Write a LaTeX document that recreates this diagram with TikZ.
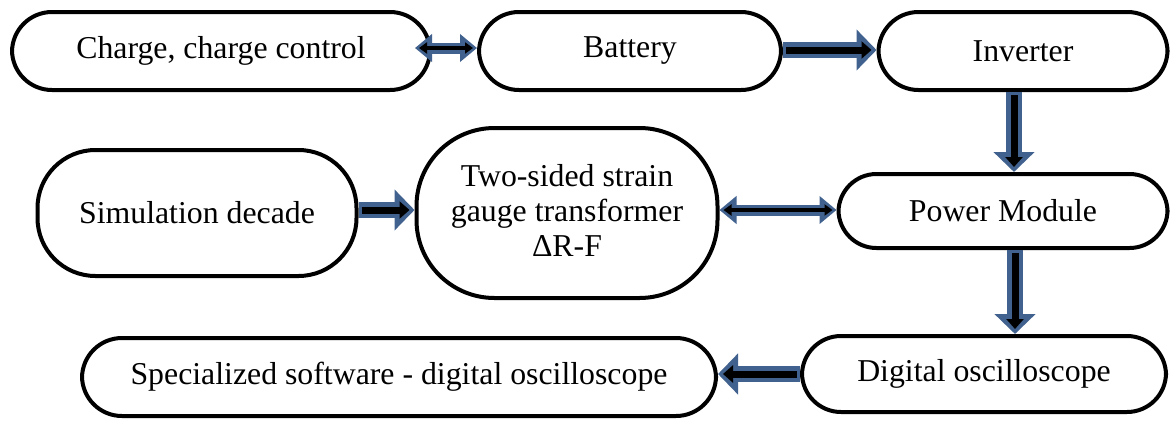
\documentclass[tikz,border=0pt]{standalone}
\usepackage{fontspec}
\setmainfont{Liberation Serif}
\usepackage{xcolor}
\usetikzlibrary{arrows.meta}
\definecolor{arrowblue}{RGB}{65,97,142}
\newcommand{\fwdarrow}[2]{
\draw[line width=16pt, arrowblue, -{Triangle[width=40pt,length=20pt]}] #1 -- #2;
\draw[line width=7pt, black, shorten <=3pt, shorten >=5pt, -{Triangle[width=17pt,length=10pt]}] #1 -- #2;
}
\newcommand{\twoarrow}[2]{
\draw[line width=11pt, arrowblue, {Triangle[width=27pt,length=17pt]}-{Triangle[width=27pt,length=17pt]}] #1 -- #2;
\draw[line width=4.5pt, black, shorten <=4pt, shorten >=4pt, {Triangle[width=11pt,length=8pt]}-{Triangle[width=11pt,length=8pt]}] #1 -- #2;
}
\tikzset{
box/.style={draw, line width=4pt, align=center, inner sep=0pt,
  font=\fontsize{31.8}{35}\selectfont},
}
\begin{document}
\begin{tikzpicture}[x=1pt, y=-1pt]
\useasboundingbox (0,0) rectangle (1173,421);

% top row
\node[box, rounded corners=40pt, minimum width=418pt, minimum height=78pt] (charge) at (221,51) {Charge, charge control};
\node[box, rounded corners=40pt, minimum width=302pt, minimum height=78pt] (battery) at (630,51) {Battery};
\node[box, rounded corners=40pt, minimum width=289pt, minimum height=78pt] (inverter) at (1023,51) {Inverter};

% middle row
\node[box, rounded corners=58pt, minimum width=319pt, minimum height=126pt] (sim) at (197,213) {Simulation decade};
\node[box, rounded corners=78pt, minimum width=301pt, minimum height=170pt, text depth=6pt] (strain) at (567,213) {Two-sided strain\\gauge transformer\\ΔR-F};
\node[box, rounded corners=38pt, minimum width=329pt, minimum height=74pt] (power) at (1003,211) {Power Module};

% bottom row
\node[box, rounded corners=40pt, minimum width=634pt, minimum height=78pt] (software) at (399,377) {Specialized software - digital oscilloscope};
\node[box, rounded corners=39pt, minimum width=364pt, minimum height=76pt] (digital) at (984,374) {Digital oscilloscope};

% arrows
\twoarrow{([xshift=-17pt,yshift=3pt]charge.east)}{([yshift=3pt]battery.west)}
\fwdarrow{([yshift=1pt]battery.east)}{([yshift=1pt]inverter.west)}
\fwdarrow{([xshift=-9pt]inverter.south)}{([xshift=-9pt]inverter.south |- power.north)}
\fwdarrow{([yshift=3pt]sim.east)}{([yshift=3pt]strain.west)}
\twoarrow{([yshift=3pt]strain.east)}{([yshift=3pt]strain.east -| power.west)}
\fwdarrow{([xshift=12pt]power.south)}{([xshift=12pt]power.south |- digital.north)}
\fwdarrow{(digital.west)}{(digital.west -| software.east)}

\end{tikzpicture}
\end{document}
